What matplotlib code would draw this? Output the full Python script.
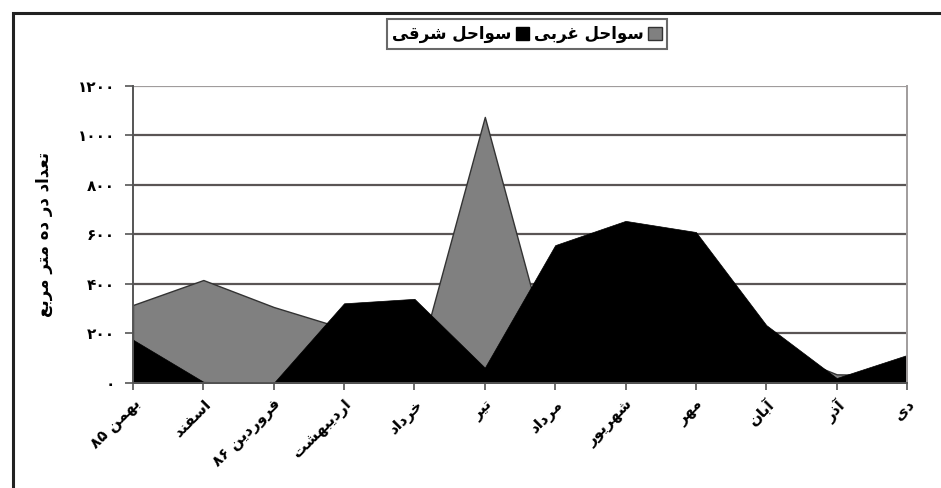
import re
import matplotlib.pyplot as plt
from matplotlib.patches import Rectangle, Patch

# ---- data ----
months = ['بهمن ۸۵', 'اسفند', 'فروردین ۸۶', 'اردیبهشت', 'خرداد', 'تیر',
          'مرداد', 'شهریور', 'مهر', 'آبان', 'آذر', 'دی']
east = [175, 5, 0, 322, 340, 62, 557, 655, 610, 234, 20, 113]
west = [315, 416, 307, 220, 30, 1075, 25, 50, 50, 150, 35, 30]
yticks = [0, 200, 400, 600, 800, 1000, 1200]
east_name = 'سواحل شرقی'
west_name = 'سواحل غربی'
ylabel = 'تعداد در ده متر مربع'

# ---- simple persian shaping (matplotlib has no bidi / joining) ----
FORMS = {  # isolated, final, initial, medial
    'ا': (0xFE8D, 0xFE8E), 'آ': (0xFE81, 0xFE82), 'د': (0xFEA9, 0xFEAA),
    'ذ': (0xFEAB, 0xFEAC), 'ر': (0xFEAD, 0xFEAE), 'ز': (0xFEAF, 0xFEB0),
    'و': (0xFEED, 0xFEEE),
    'ب': (0xFE8F, 0xFE90, 0xFE91, 0xFE92), 'ت': (0xFE95, 0xFE96, 0xFE97, 0xFE98),
    'ح': (0xFEA1, 0xFEA2, 0xFEA3, 0xFEA4), 'خ': (0xFEA5, 0xFEA6, 0xFEA7, 0xFEA8),
    'س': (0xFEB1, 0xFEB2, 0xFEB3, 0xFEB4), 'ش': (0xFEB5, 0xFEB6, 0xFEB7, 0xFEB8),
    'ع': (0xFEC9, 0xFECA, 0xFECB, 0xFECC), 'غ': (0xFECD, 0xFECE, 0xFECF, 0xFED0),
    'ف': (0xFED1, 0xFED2, 0xFED3, 0xFED4), 'ق': (0xFED5, 0xFED6, 0xFED7, 0xFED8),
    'ل': (0xFEDD, 0xFEDE, 0xFEDF, 0xFEE0), 'م': (0xFEE1, 0xFEE2, 0xFEE3, 0xFEE4),
    'ن': (0xFEE5, 0xFEE6, 0xFEE7, 0xFEE8), 'ه': (0xFEE9, 0xFEEA, 0xFEEB, 0xFEEC),
    'ی': (0xFEEF, 0xFEF0, 0xFEF3, 0xFEF4),
}


def fa(text):
    out = []
    for i, ch in enumerate(text):
        f = FORMS.get(ch)
        if f is None:
            out.append(ch)
            continue
        prev = text[i - 1] if i > 0 else ''
        nxt = text[i + 1] if i + 1 < len(text) else ''
        join_prev = prev in FORMS and len(FORMS[prev]) == 4
        join_next = len(f) == 4 and nxt in FORMS
        if join_prev and join_next:
            code = f[3]
        elif join_prev:
            code = f[1]
        elif join_next:
            code = f[2]
        else:
            code = f[0]
        out.append(chr(code))
    vis = ''.join(out)[::-1]
    return re.sub('[۰-۹0-9]+', lambda m: m.group(0)[::-1], vis)


def fa_num(n):
    return str(n).translate(str.maketrans('0123456789', '۰۱۲۳۴۵۶۷۸۹'))


plt.rcParams['font.family'] = ['DejaVu Sans']

fig = plt.figure(figsize=(9.41, 4.88), dpi=100)
ax = fig.add_axes([0.1413, 0.2152, 0.8226, 0.6086])

x = list(range(len(months)))
ax.fill_between(x, west, color='#808080', edgecolor='#333333', linewidth=1.0, zorder=2)
ax.fill_between(x, east, color='black', edgecolor='black', linewidth=0.5, zorder=3)

ax.set_xlim(0, len(months) - 1)
ax.set_ylim(0, 1200)
ax.set_yticks(yticks)
ax.set_yticklabels([fa_num(v) for v in yticks], fontsize=11, fontweight='bold')
ax.set_xticks(x)
ax.set_xticklabels([fa(m) for m in months], rotation=45, ha='right',
                   rotation_mode='anchor', fontsize=11, fontweight='bold')
for v in yticks[1:]:
    ax.axhline(v, color='#5a5555' if v < 1200 else '#a09c9c', linewidth=1.6, zorder=1)

ax.tick_params(axis='y', direction='out', length=6, width=1.2, color='#555555', pad=7)
ax.tick_params(axis='x', direction='out', length=5, width=1.2, color='#555555', pad=5)
for s in ['left', 'bottom']:
    ax.spines[s].set_color('#555555')
    ax.spines[s].set_linewidth(1.4)
ax.spines['top'].set_visible(False)
ax.spines['right'].set_color('#a09c9c')
ax.spines['right'].set_linewidth(1.4)
for s in ax.spines.values():
    s.set_zorder(4)

ax.set_ylabel(fa(ylabel), fontsize=12, fontweight='bold', labelpad=18)

handles = [Patch(facecolor='black', edgecolor='black', label=fa(east_name)),
           Patch(facecolor='#808080', edgecolor='#333333', label=fa(west_name))]
leg = fig.legend(handles=handles, loc='center', bbox_to_anchor=(527 / 941, 1 - 34 / 488),
                 ncol=2, markerfirst=False, frameon=True, fancybox=False,
                 prop={'size': 12, 'weight': 'bold'}, handlelength=0.8, handleheight=0.8,
                 handletextpad=0.25, columnspacing=0.3, borderpad=0.35)
leg.get_frame().set_edgecolor('#444444')
leg.get_frame().set_linewidth(1.5)

# outer chart frame (cut off at right and bottom)
fig.patches.append(Rectangle((13 / 941, -0.05), 1.0, 1 - 13 / 488 + 0.05,
                             transform=fig.transFigure, fill=False,
                             edgecolor='#222222', linewidth=2.2))

plt.savefig('out.png', dpi=100)
